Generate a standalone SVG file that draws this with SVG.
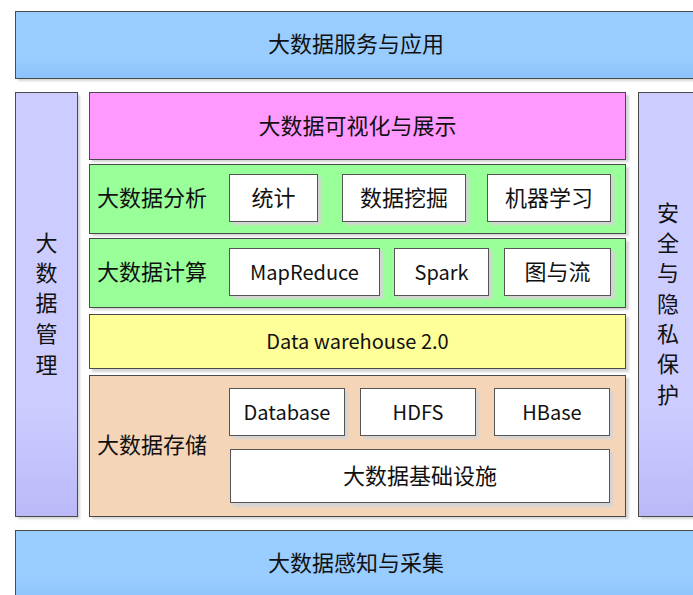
<svg xmlns="http://www.w3.org/2000/svg" width="693" height="595" viewBox="0 0 693 595">
<defs>
<linearGradient id="gBlue" x1="0" y1="0" x2="0" y2="1">
<stop offset="0" stop-color="#99ccff"/><stop offset="0.7" stop-color="#99ccff"/><stop offset="1" stop-color="#8cc3fb"/>
</linearGradient>
<linearGradient id="gLav" x1="0" y1="0" x2="0" y2="1">
<stop offset="0" stop-color="#ccccff"/><stop offset="0.75" stop-color="#ccccff"/><stop offset="1" stop-color="#bbb8f8"/>
</linearGradient>
<filter id="sh" x="-5%" y="-5%" width="115%" height="120%">
<feGaussianBlur stdDeviation="1.2"/>
</filter>
</defs>
<style>
.s{fill:#d4d4d4;filter:url(#sh)}
.b{stroke:#4a4a4a;stroke-width:1}
.w{fill:#ffffff;stroke:#555555;stroke-width:1}
text{font-family:"Noto Sans CJK SC","Noto Sans",sans-serif;fill:#111111;dominant-baseline:central}
.c{text-anchor:middle}
.t22{font-size:22px}
.t20{font-size:20px}
</style>
<rect width="693" height="595" fill="#ffffff"/>

<g id="service">
<rect class="s" x="18" y="14" width="682" height="67"/>
<rect class="b" x="15.5" y="11.5" width="682" height="67" fill="url(#gBlue)"/>
<text class="c t22" x="356" y="42">大数据服务与应用</text>
</g>

<g id="management">
<rect class="s" x="18" y="95" width="62" height="424"/>
<rect class="b" x="15.5" y="92.5" width="62" height="424" fill="url(#gLav)"/>
<text class="c t22" x="46.5" y="241">大</text>
<text class="c t22" x="46.5" y="271">数</text>
<text class="c t22" x="46.5" y="301">据</text>
<text class="c t22" x="46.5" y="332">管</text>
<text class="c t22" x="46.5" y="363">理</text>
</g>

<g id="security">
<rect class="s" x="641" y="95" width="62" height="424"/>
<rect class="b" x="638.5" y="92.5" width="62" height="424" fill="url(#gLav)"/>
<text class="c t22" x="668" y="211">安</text>
<text class="c t22" x="668" y="241">全</text>
<text class="c t22" x="668" y="271">与</text>
<text class="c t22" x="668" y="302">隐</text>
<text class="c t22" x="668" y="332">私</text>
<text class="c t22" x="668" y="362">保</text>
<text class="c t22" x="668" y="393">护</text>
</g>

<g id="visualization">
<rect class="s" x="92" y="95" width="537" height="67"/>
<rect class="b" x="89.5" y="92.5" width="536" height="67" fill="#ff99ff"/>
<text class="c t22" x="357.5" y="124">大数据可视化与展示</text>
</g>

<g id="analysis">
<rect class="s" x="92" y="167" width="537" height="69"/>
<rect class="b" x="89.5" y="164.5" width="536" height="69" fill="#99ff99"/>
<text class="t22" x="97" y="196">大数据分析</text>
</g>
<g id="stat">
<rect class="s" x="233" y="177" width="88" height="48"/>
<rect class="w" x="229.5" y="174.5" width="88" height="47"/>
<text class="c t22" x="273.5" y="196">统计</text>
</g>
<g id="mining">
<rect class="s" x="346" y="177" width="123" height="48"/>
<rect class="w" x="342.5" y="174.5" width="123" height="47"/>
<text class="c t22" x="404" y="196">数据挖掘</text>
</g>
<g id="ml">
<rect class="s" x="491" y="177" width="123" height="48"/>
<rect class="w" x="487.5" y="174.5" width="123" height="47"/>
<text class="c t22" x="549" y="196">机器学习</text>
</g>

<g id="compute">
<rect class="s" x="92" y="241" width="537" height="69"/>
<rect class="b" x="89.5" y="238.5" width="536" height="69" fill="#99ff99"/>
<text class="t22" x="97" y="270">大数据计算</text>
</g>
<g id="mapreduce">
<rect class="s" x="233" y="251" width="150" height="48"/>
<rect class="w" x="229.5" y="248.5" width="150" height="47"/>
<text class="c t20" x="304.5" y="271">MapReduce</text>
</g>
<g id="spark">
<rect class="s" x="397" y="251" width="95" height="48"/>
<rect class="w" x="394.5" y="248.5" width="94" height="47"/>
<text class="c t20" x="441.5" y="271">Spark</text>
</g>
<g id="graph">
<rect class="s" x="508" y="251" width="107" height="48"/>
<rect class="w" x="504.5" y="248.5" width="106" height="47"/>
<text class="c t22" x="557.5" y="270">图与流</text>
</g>

<g id="warehouse">
<rect class="s" x="92" y="317" width="537" height="55"/>
<rect class="b" x="89.5" y="314.5" width="536" height="54" fill="#ffff99"/>
<text class="c t20" x="357.5" y="340">Data warehouse 2.0</text>
</g>

<g id="storage">
<rect class="s" x="92" y="378" width="537" height="141"/>
<rect class="b" x="89.5" y="375.5" width="536" height="141" fill="#f5d5b8"/>
<text class="t22" x="97" y="443">大数据存储</text>
</g>
<g id="database">
<rect class="s" x="233" y="391" width="115" height="48"/>
<rect class="w" x="229.5" y="388.5" width="115" height="47"/>
<text class="c t20" x="287" y="411">Database</text>
</g>
<g id="hdfs">
<rect class="s" x="364" y="391" width="115" height="48"/>
<rect class="w" x="360.5" y="388.5" width="115" height="47"/>
<text class="c t20" x="418" y="411">HDFS</text>
</g>
<g id="hbase">
<rect class="s" x="498" y="391" width="115" height="48"/>
<rect class="w" x="494.5" y="388.5" width="115" height="47"/>
<text class="c t20" x="552" y="411">HBase</text>
</g>
<g id="infrastructure">
<rect class="s" x="233" y="452" width="380" height="55"/>
<rect class="w" x="230.5" y="449.5" width="379" height="53"/>
<text class="c t22" x="420" y="474">大数据基础设施</text>
</g>

<g id="collection">
<rect class="b" x="15.5" y="530.5" width="682" height="70" fill="url(#gBlue)"/>
<text class="c t22" x="356" y="561">大数据感知与采集</text>
</g>

<g id="connectors"></g>
</svg>
